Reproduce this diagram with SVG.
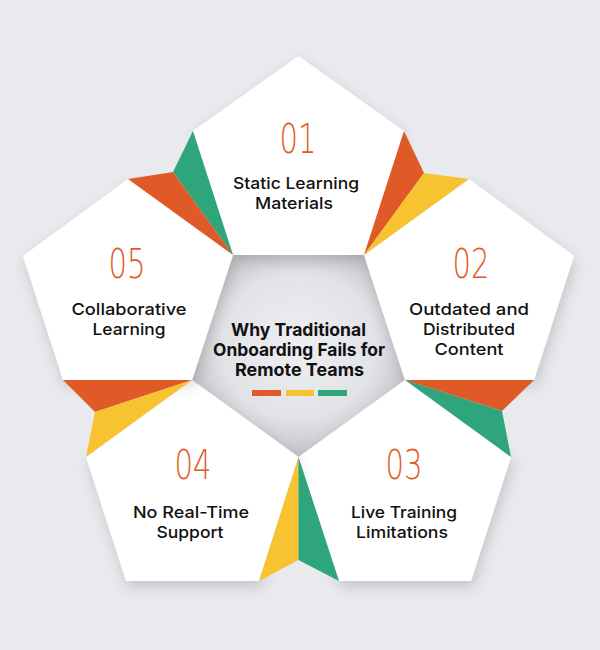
<svg xmlns="http://www.w3.org/2000/svg" width="600" height="650" viewBox="0 0 600 650">
<defs>
<filter id="sh" x="-20%" y="-20%" width="140%" height="150%">
<feDropShadow dx="2" dy="6" stdDeviation="7" flood-color="#000" flood-opacity="0.16"/>
</filter>
<radialGradient id="hole" cx="0.5" cy="0.45" r="0.6">
<stop offset="0" stop-color="#eeeff2"/>
<stop offset="0.6" stop-color="#e2e3e7"/>
<stop offset="1" stop-color="#b9babe"/>
</radialGradient>
<style>
.pent{fill:#ffffff;filter:url(#sh)}
.o{fill:#e05a28}.y{fill:#f8c330}.g{fill:#2ea57b}
.num{font-family:"DejaVu Sans","Roboto",sans-serif;font-weight:200;font-size:40px;fill:#e05a28;text-anchor:middle}
.lbl{font-family:"Inter","Open Sans",sans-serif;font-weight:500;font-size:16.5px;fill:#111;text-anchor:middle}
.ttl{font-family:"Inter","Open Sans",sans-serif;font-weight:700;font-size:18px;fill:#111;text-anchor:middle}
</style>
</defs>
<rect width="600" height="650" fill="#e9eaee"/>
<polygon points="233,255 364,255 405,380 298.5,457 192,380" fill="url(#hole)"/>
<g id="node-01">
<polygon class="pent" points="298.5,56 404,131 364,255 233,255 193,131"/>
<text class="num" x="298" y="153" textLength="37" lengthAdjust="spacingAndGlyphs">01</text>
<text class="lbl" x="296" y="189" textLength="126" lengthAdjust="spacingAndGlyphs">Static Learning</text>
<text class="lbl" x="294" y="209" textLength="78" lengthAdjust="spacingAndGlyphs">Materials</text>
</g>
<g id="node-02">
<polygon class="pent" points="469,179 574,256 534,380 405,380 364,255"/>
<text class="num" x="471" y="278" textLength="37" lengthAdjust="spacingAndGlyphs">02</text>
<text class="lbl" x="469" y="315" textLength="120" lengthAdjust="spacingAndGlyphs">Outdated and</text>
<text class="lbl" x="469" y="335" textLength="92" lengthAdjust="spacingAndGlyphs">Distributed</text>
<text class="lbl" x="469" y="355" textLength="69" lengthAdjust="spacingAndGlyphs">Content</text>
</g>
<g id="node-03">
<polygon class="pent" points="405,380 511,457 471,581 339,581 298.5,457"/>
<text class="num" x="404" y="479" textLength="37" lengthAdjust="spacingAndGlyphs">03</text>
<text class="lbl" x="404" y="518" textLength="106" lengthAdjust="spacingAndGlyphs">Live Training</text>
<text class="lbl" x="402" y="538" textLength="92" lengthAdjust="spacingAndGlyphs">Limitations</text>
</g>
<g id="node-04">
<polygon class="pent" points="192,380 298.5,457 259,581 126,581 86,457"/>
<text class="num" x="193" y="479" textLength="37" lengthAdjust="spacingAndGlyphs">04</text>
<text class="lbl" x="191" y="518" textLength="116" lengthAdjust="spacingAndGlyphs">No Real-Time</text>
<text class="lbl" x="190" y="538" textLength="67" lengthAdjust="spacingAndGlyphs">Support</text>
</g>
<g id="node-05">
<polygon class="pent" points="128,179 233,255 192,380 63,380 23,256"/>
<text class="num" x="127" y="278" textLength="37" lengthAdjust="spacingAndGlyphs">05</text>
<text class="lbl" x="129" y="315" textLength="115" lengthAdjust="spacingAndGlyphs">Collaborative</text>
<text class="lbl" x="129" y="335" textLength="73" lengthAdjust="spacingAndGlyphs">Learning</text>
</g>
<g id="connectors">
<polygon class="g" points="193,131 173,172 233,255"/>
<polygon class="o" points="173,172 128,179 233,255"/>
<polygon class="o" points="404,131 424,173 364,255"/>
<polygon class="y" points="424,173 469,179 364,255"/>
<polygon class="o" points="405,380 534,380 502,411"/>
<polygon class="g" points="405,380 502,411 511,457"/>
<polygon class="o" points="63,380 192,380 95,412"/>
<polygon class="y" points="192,380 95,412 86,457"/>
<polygon class="y" points="298.5,457 298.5,560 259,581"/>
<polygon class="g" points="298.5,457 298.5,560 339,581"/>
</g>
<g id="title">
<text class="ttl" x="298.5" y="336" textLength="135" lengthAdjust="spacingAndGlyphs">Why Traditional</text>
<text class="ttl" x="299" y="356" textLength="172" lengthAdjust="spacingAndGlyphs">Onboarding Fails for</text>
<text class="ttl" x="299.5" y="376" textLength="129" lengthAdjust="spacingAndGlyphs">Remote Teams</text>
<rect class="o" x="252" y="390" width="29" height="6"/>
<rect class="y" x="286" y="390" width="28" height="6"/>
<rect class="g" x="318" y="390" width="29" height="6"/>
</g>
</svg>
